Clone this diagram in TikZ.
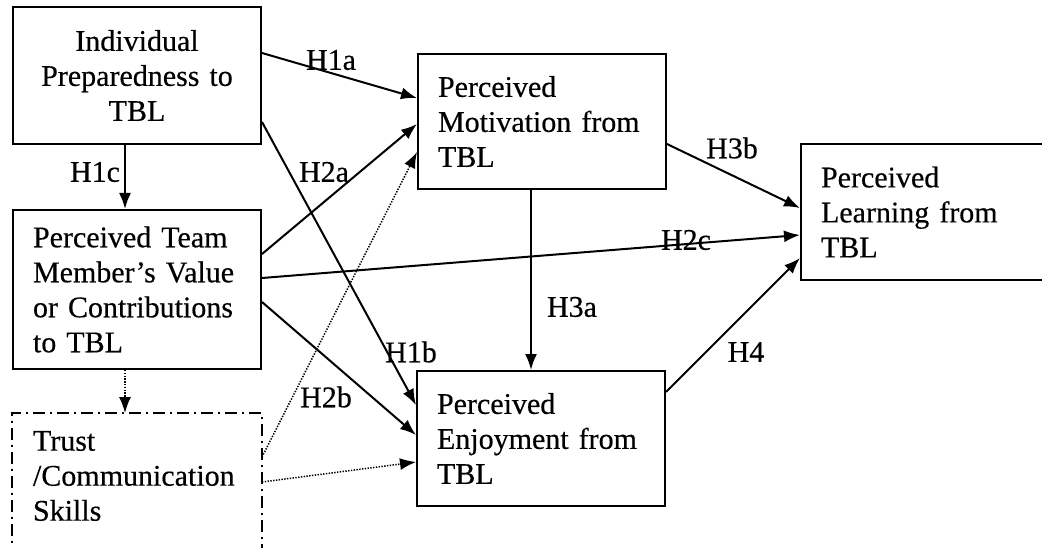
\documentclass[tikz,border=0pt]{standalone}
\usepackage{fontspec}
\setmainfont{Liberation Serif}[FakeBold=0.4]
\usetikzlibrary{arrows.meta}
\begin{document}
\begin{tikzpicture}[x=1pt,y=-1pt,
  box/.style={draw, line width=2pt, anchor=north west, text width=208pt,
    inner xsep=20pt, inner ysep=0pt, align=left,
    font=\fontsize{30}{35}\selectfont},
  link/.style={line width=2pt, -{Latex[length=16pt,width=12pt]}},
  hint/.style={line width=1.5pt, dash pattern=on 1.4pt off 1.4pt,
    -{Latex[length=16pt,width=12pt]}},
  dashdot/.style={line width=2pt, dash pattern=on 12pt off 5pt on 2pt off 5pt},
  lab/.style={font=\fontsize{30}{35}\selectfont, inner sep=0pt}]
\clip (0,0) rectangle (1042,548);
\fill[white] (0,0) rectangle (1042,548);

% constructs
\node[box, align=center, minimum height=137pt] (prep) at (12,6)
  {Individual\\Preparedness to\\TBL};
\node[box, minimum height=159pt] (team) at (12,209)
  {Perceived Team\\Member’s Value\\or Contributions\\to TBL};
\node[box, draw=none, minimum height=124pt] (trust) at (12,413)
  {Trust\\/Communication\\Skills};
\draw[dashdot] (trust.south west |- 0,560) -- (trust.north west)
  -- (trust.north east) -- (trust.south east |- 0,560);
\node[box, minimum height=135pt] (motiv) at (417,53)
  {Perceived\\Motivation from\\TBL};
\node[box, minimum height=135pt] (enjoy) at (416,370)
  {Perceived\\Enjoyment from\\TBL};
\node[box, minimum height=136pt] (learn) at (800,143)
  {Perceived\\Learning from\\TBL};

% hypothesised paths
\draw[link] ([yshift=-47pt]prep.north east) -- ([yshift=-45pt]motiv.north west);
\draw[link] ([yshift=-116pt]prep.north east) -- ([yshift=-35pt]enjoy.north west);
\draw[link] ([xshift=-12pt]prep.south) -- ([xshift=-12pt]team.north);
\draw[link] ([yshift=-45pt]team.north east) -- ([yshift=-71pt]motiv.north west);
\draw[link] ([yshift=-69pt]team.north east) -- ([yshift=-92pt]learn.north west);
\draw[link] ([yshift=-93pt]team.north east) -- ([yshift=-65pt]enjoy.north west);
\draw[link] ([xshift=-11pt]motiv.south) -- ([xshift=-10pt]enjoy.north);
\draw[link] ([yshift=-91pt]motiv.north east) -- ([yshift=-65pt]learn.north west);
\draw[link] ([yshift=-22pt]enjoy.north east) -- ([yshift=-115pt]learn.north west);

% moderating paths
\draw[hint] ([xshift=-12pt]team.south) -- ([xshift=-12pt]trust.north);
\draw[hint] ([yshift=-44pt]trust.north east) -- ([yshift=-99pt]motiv.north west);
\draw[hint] ([yshift=-69pt]trust.north east) -- ([yshift=-92pt]enjoy.north west);

% path labels
\node[lab] (h1a) at (331,60) {H1a};
\node[lab] (h1c) at (95,172) {H1c};
\node[lab] (h2a) at (324,172) {H2a};
\node[lab] (h1b) at (411,352) {H1b};
\node[lab] (h2b) at (326,397) {H2b};
\node[lab] (h3a) at (572,307) {H3a};
\node[lab] (h3b) at (732,148) {H3b};
\node[lab] (h2c) at (686,240) {H2c};
\node[lab] (h4) at (746,352) {H4};
\end{tikzpicture}
\end{document}
